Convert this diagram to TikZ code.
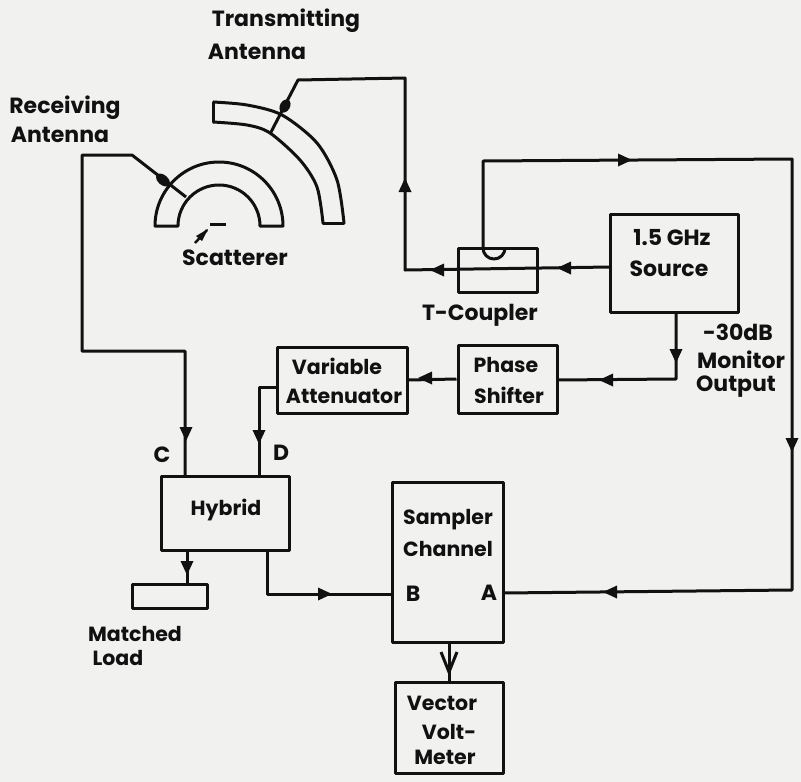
\documentclass[tikz,border=0pt]{standalone}
\usepackage{fontspec}
\setmainfont{Poppins}[BoldFont={Poppins Bold}]
\definecolor{pagebg}{HTML}{F1F1F0}
\definecolor{ink}{HTML}{111111}
\tikzset{
  lbl/.style={inner sep=0pt,font=\fontsize{20.5}{22}\selectfont\bfseries,text=ink},
  bigl/.style={lbl,font=\fontsize{22}{24}\selectfont\bfseries},
  box/.style={draw=ink,line width=3pt,inner sep=0pt,line join=round},
  wire/.style={draw=ink,line width=3pt,line join=round}
}
\newcommand{\tipat}[3]{\fill[ink,shift={(#1,#2)},rotate=#3] (-7,-6.5) -- (7,0) -- (-7,6.5) -- cycle;}
\begin{document}
\begin{tikzpicture}[x=1pt,y=-1pt]
\useasboundingbox (0,0) rectangle (801,782);
\fill[pagebg] (0,0) rectangle (801,782);

% boxes
\node[box,minimum width=79pt,minimum height=44pt] (coupler) at (497.5,270) {};
\node[box,minimum width=128pt,minimum height=98pt] (source) at (674,263) {};
\node[box,minimum width=99pt,minimum height=68pt] (phase) at (507.5,379) {};
\node[box,minimum width=130pt,minimum height=66pt] (atten) at (342,380) {};
\node[box,minimum width=128pt,minimum height=74pt] (hybrid) at (225,513) {};
\node[box,minimum width=75pt,minimum height=24pt] (load) at (169.5,596) {};
\node[box,minimum width=111pt,minimum height=160pt] (sampler) at (448,562) {};
\node[box,minimum width=108pt,minimum height=91pt] (volt) at (449.5,727.5) {};

% antennas
\draw[wire] (155,226) arc[start angle=180,end angle=0,radius=64pt]
  -- (260,226) arc[start angle=0,end angle=180,radius=41pt] -- cycle;
\draw[wire] plot[smooth] coordinates {(213,102) (247,105) (282,115) (317,143) (337,180) (344,223)};
\draw[wire] plot[smooth] coordinates {(213,122) (247,125) (270,133) (300,160) (317,187) (323,223)};
\draw[wire,line cap=round] (213,102) -- (213,122);
\draw[wire,line cap=round] (323,223) -- (344,223);

% coordinates
\coordinate (rxfeed) at (186,197);
\coordinate (rxa) at (132,155);
\coordinate (rxb) at (82,155);
\coordinate (rxc) at (82,351);
\coordinate (rxd) at (185,351);
\coordinate (rxe) at (185,476);
\fill[ink,rotate around={-40:(163,180)}] (163,180) ellipse[x radius=8pt,y radius=5pt];
\coordinate (txfeed) at (270,134);
\coordinate (txa) at (298,80);
\coordinate (txb) at (405,78);
\coordinate (txc) at (405,270);
\fill[ink,rotate around={60:(285,106)}] (285,106) ellipse[x radius=7pt,y radius=5pt];
\coordinate (srcout) at (610,267);
\coordinate (hookL) at (483,248);
\coordinate (mona) at (483,161);
\coordinate (monb) at (792,159);
\coordinate (monc) at (792,590);
\coordinate (aout) at (503,593);
\coordinate (s1) at (676,312);
\coordinate (s2) at (676,379);
\coordinate (s3) at (557,380);
\coordinate (d1) at (277,387);
\coordinate (d2) at (259,387);
\coordinate (d3) at (259,476);
\coordinate (b1) at (267,550);
\coordinate (b2) at (267,594);
\coordinate (b3) at (392,594);
\coordinate (h1) at (187,550);
\coordinate (h2) at (187,584);
\coordinate (v1) at (449,642);
\coordinate (v2) at (449,682);
\coordinate (scatL) at (210,224);
\coordinate (scatR) at (226,224);
\coordinate (scatT) at (207,230);
\coordinate (scatS) at (195,243);

% connectors
\draw[wire] (rxfeed) -- (rxa) -- (rxb) -- (rxc) -- (rxd) -- (rxe);
\draw[wire] (txfeed) -- (txa) -- (txb) -- (txc) -- (srcout);
\draw[wire] (hookL) -- (mona) -- (monb) -- (monc) -- (aout);
\draw[wire] (hookL) arc[start angle=180,end angle=360,radius=11pt];
\draw[wire] (s1) -- (s2) -- (s3);
\draw[wire] (phase.west) -- (atten.east);
\draw[wire] (d1) -- (d2) -- (d3);
\draw[wire] (b1) -- (b2) -- (b3);
\draw[wire] (h1) -- (h2);
\draw[wire] (v1) -- (v2);
\draw[wire] (scatL) -- (scatR);
\draw[ink,line width=2.5pt] (scatS) -- (scatT);

% arrowheads
\tipat{405}{185}{90}
\tipat{437}{270}{180}
\tipat{564}{268}{180}
\tipat{625}{160}{0}
\tipat{676}{356}{270}
\tipat{606}{380}{180}
\tipat{425}{378}{180}
\tipat{186}{434}{270}
\tipat{259}{437}{270}
\tipat{187}{568}{270}
\tipat{325}{594}{0}
\tipat{610}{592}{180}
\tipat{792}{445}{270}
\fill[ink] (208,229) -- (196,236) -- (202,241) -- cycle;
\draw[ink,line width=3pt] (441,652) -- (449,672) -- (457,652);

% labels
\node[bigl] (t1) at (286,21) {Transmitting};
\node[bigl] (t2) at (257,52) {Antenna};
\node[bigl] (r1) at (65,108) {Receiving};
\node[bigl] (r2) at (60,135) {Antenna};
\node[bigl] (sc) at (235,258) {Scatterer};
\node[bigl] (tc) at (480,315) {T-Coupler};
\node[bigl] (gz) at (672,238) {1.5 GHz};
\node[bigl] (so) at (669,269) {Source};
\node[bigl] (db) at (738,332) {-30dB};
\node[bigl] (mo) at (741,360) {Monitor};
\node[bigl] (ou) at (736,387) {Output};
\node[lbl] (ph) at (506,365) {Phase};
\node[lbl] (sh) at (509,395) {Shifter};
\node[lbl] (va) at (337,366) {Variable};
\node[lbl] (at) at (344,396) {Attenuator};
\node[bigl] (cc) at (162,455) {C};
\node[bigl] (dd) at (281,453) {D};
\node[lbl] (hy) at (226,510) {Hybrid};
\node[lbl] (sa) at (448,520) {Sampler};
\node[lbl] (ch) at (448,549) {Channel};
\node[bigl] (bb) at (413,594) {B};
\node[bigl] (aa) at (489,593) {A};
\node[lbl] (ma) at (135,634) {Matched};
\node[lbl] (lo) at (118,658) {Load};
\node[lbl] (ve) at (442,703) {Vector};
\node[lbl] (vo) at (449,732) {Volt-};
\node[lbl] (me) at (445,757) {Meter};
\end{tikzpicture}
\end{document}
